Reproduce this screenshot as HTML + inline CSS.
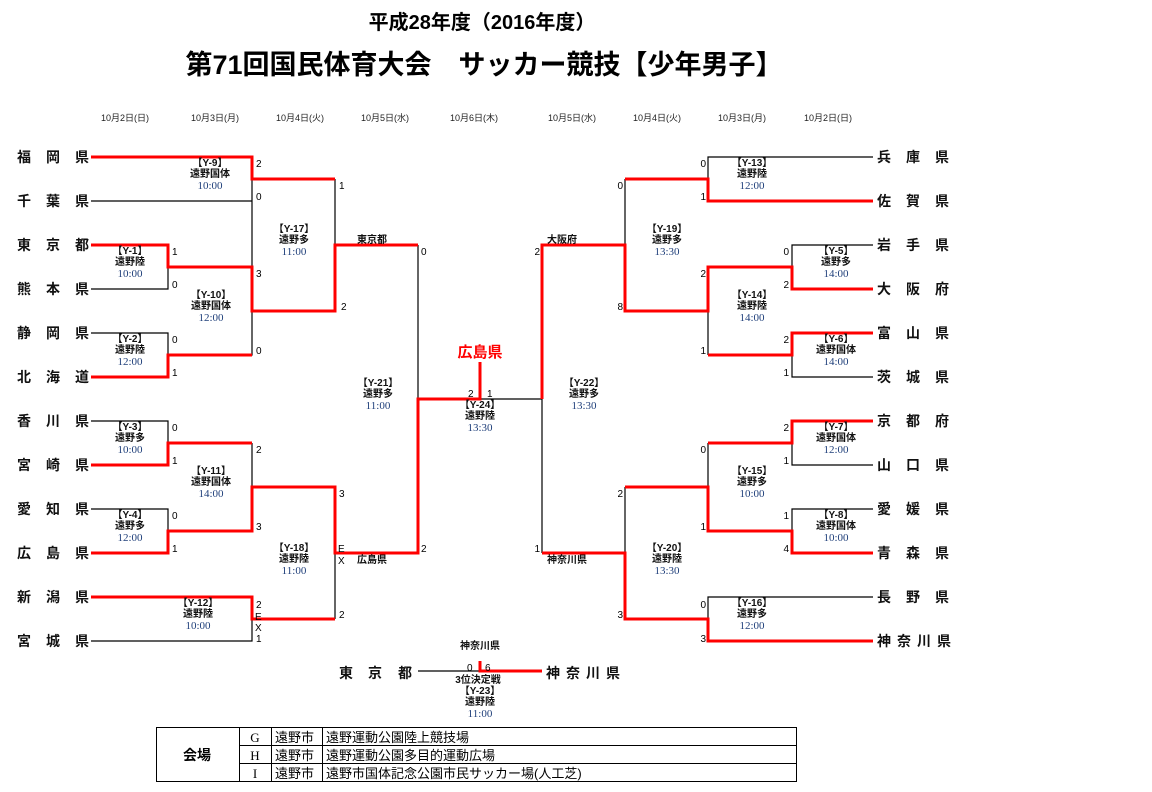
<!DOCTYPE html>
<html><head><meta charset="utf-8"><style>
html,body{margin:0;padding:0;background:#fff;}
svg{display:block;}
text{font-family:"Liberation Sans","Noto Sans CJK JP",sans-serif;}
.t{font-size:14px;font-weight:bold;fill:#111;}
.s{font-size:10px;fill:#000;}
.m{font-size:10px;font-weight:bold;fill:#111;text-anchor:middle;}
.tm{font-size:11px;fill:#1f3f7a;text-anchor:middle;font-family:"Liberation Serif","Noto Serif CJK SC",serif;}
.d{font-size:9px;fill:#222;text-anchor:middle;}
.b{stroke:#000;stroke-width:1.2;fill:none;}
.r{stroke:#f00;stroke-width:3;fill:none;}
</style></head><body>
<svg width="1152" height="792" viewBox="0 0 1152 792" xmlns="http://www.w3.org/2000/svg">
<text x="482" y="29" text-anchor="middle" style="font-size:20px;font-weight:bold;font-family:'Liberation Sans','Noto Sans CJK JP',sans-serif">平成28年度（2016年度）</text>
<text x="484" y="74" text-anchor="middle" style="font-size:27px;font-weight:bold;font-family:'Liberation Sans','Noto Sans CJK JP',sans-serif">第71回国民体育大会　サッカー競技【少年男子】</text>
<g class="d">
<text x="125" y="121">10月2日(日)</text><text x="215" y="121">10月3日(月)</text><text x="300" y="121">10月4日(火)</text><text x="385" y="121">10月5日(水)</text><text x="474" y="121">10月6日(木)</text>
<text x="572" y="121">10月5日(水)</text><text x="657" y="121">10月4日(火)</text><text x="742" y="121">10月3日(月)</text><text x="828" y="121">10月2日(日)</text>
</g>
<g class="b">
<path d="M91 201H252V157 M91 289H168V245 M91 333H168V377 M168 355H252V267 M252 311V179 M91 421H168V465 M91 509H168V553 M168 531H252V443 M252 487V531 M91 641H252V597 M335 179V311 M335 487V619 M418 245V553 M418 399H542 M542 245V553"/>
<path d="M873 157H708V201 M873 245H792V289 M873 377H792V333 M708 267V355 M625 179V311 M873 465H792V421 M873 509H792V553 M708 443V531 M873 597H708V641 M625 487V619 M418 671H480"/>
</g>
<g class="r">
<path d="M91 157H252V179H335"/>
<path d="M91 245H168V267H252V311H335V245H418"/>
<path d="M91 377H168V355H252"/>
<path d="M91 465H168V443H252"/>
<path d="M91 553H168V531H252V487H335V553H418V399H480V362"/>
<path d="M91 597H252V619H335"/>
<path d="M873 201H708V179H625"/>
<path d="M873 289H792V267H708V311H625V245H542V399"/>
<path d="M873 333H792V355H708"/>
<path d="M873 421H792V443H708"/>
<path d="M873 553H792V531H708V487H625"/>
<path d="M873 641H708V619H625V553H542"/>
<path d="M480 661V671H542"/>
</g>
<g class="t">
<text y="162"><tspan x="17">福</tspan><tspan x="46">岡</tspan><tspan x="75">県</tspan></text>
<text y="206"><tspan x="17">千</tspan><tspan x="46">葉</tspan><tspan x="75">県</tspan></text>
<text y="250"><tspan x="17">東</tspan><tspan x="46">京</tspan><tspan x="75">都</tspan></text>
<text y="294"><tspan x="17">熊</tspan><tspan x="46">本</tspan><tspan x="75">県</tspan></text>
<text y="338"><tspan x="17">静</tspan><tspan x="46">岡</tspan><tspan x="75">県</tspan></text>
<text y="382"><tspan x="17">北</tspan><tspan x="46">海</tspan><tspan x="75">道</tspan></text>
<text y="426"><tspan x="17">香</tspan><tspan x="46">川</tspan><tspan x="75">県</tspan></text>
<text y="470"><tspan x="17">宮</tspan><tspan x="46">崎</tspan><tspan x="75">県</tspan></text>
<text y="514"><tspan x="17">愛</tspan><tspan x="46">知</tspan><tspan x="75">県</tspan></text>
<text y="558"><tspan x="17">広</tspan><tspan x="46">島</tspan><tspan x="75">県</tspan></text>
<text y="602"><tspan x="17">新</tspan><tspan x="46">潟</tspan><tspan x="75">県</tspan></text>
<text y="646"><tspan x="17">宮</tspan><tspan x="46">城</tspan><tspan x="75">県</tspan></text>
<text y="162"><tspan x="877">兵</tspan><tspan x="906">庫</tspan><tspan x="935">県</tspan></text>
<text y="206"><tspan x="877">佐</tspan><tspan x="906">賀</tspan><tspan x="935">県</tspan></text>
<text y="250"><tspan x="877">岩</tspan><tspan x="906">手</tspan><tspan x="935">県</tspan></text>
<text y="294"><tspan x="877">大</tspan><tspan x="906">阪</tspan><tspan x="935">府</tspan></text>
<text y="338"><tspan x="877">富</tspan><tspan x="906">山</tspan><tspan x="935">県</tspan></text>
<text y="382"><tspan x="877">茨</tspan><tspan x="906">城</tspan><tspan x="935">県</tspan></text>
<text y="426"><tspan x="877">京</tspan><tspan x="906">都</tspan><tspan x="935">府</tspan></text>
<text y="470"><tspan x="877">山</tspan><tspan x="906">口</tspan><tspan x="935">県</tspan></text>
<text y="514"><tspan x="877">愛</tspan><tspan x="906">媛</tspan><tspan x="935">県</tspan></text>
<text y="558"><tspan x="877">青</tspan><tspan x="906">森</tspan><tspan x="935">県</tspan></text>
<text y="602"><tspan x="877">長</tspan><tspan x="906">野</tspan><tspan x="935">県</tspan></text>
<text y="646"><tspan x="877">神</tspan><tspan x="897">奈</tspan><tspan x="917">川</tspan><tspan x="937">県</tspan></text>
<text y="678"><tspan x="339">東</tspan><tspan x="368">京</tspan><tspan x="398">都</tspan></text>
<text y="678"><tspan x="546">神</tspan><tspan x="566">奈</tspan><tspan x="586">川</tspan><tspan x="606">県</tspan></text>
</g>
<text x="480" y="357" text-anchor="middle" style="font-size:15px;font-weight:bold;fill:#f00">広島県</text>
<g class="s">
<text x="256" y="167">2</text><text x="256" y="200">0</text>
<text x="339" y="189">1</text><text x="341" y="310">2</text>
<text x="421" y="255">0</text><text x="421" y="552">2</text>
<text x="172" y="255">1</text><text x="172" y="288">0</text>
<text x="256" y="277">3</text><text x="256" y="354">0</text>
<text x="172" y="343">0</text><text x="172" y="376">1</text>
<text x="172" y="431">0</text><text x="172" y="464">1</text>
<text x="256" y="453">2</text><text x="256" y="530">3</text>
<text x="339" y="497">3</text><text x="338" y="552">E</text><text x="338" y="564">X</text><text x="339" y="618">2</text>
<text x="172" y="519">0</text><text x="172" y="552">1</text>
<text x="256" y="608">2</text><text x="255" y="620">E</text><text x="255" y="631">X</text><text x="256" y="642">1</text>
<text x="468" y="397">2</text><text x="487" y="397">1</text>
<text x="467" y="671">0</text><text x="485" y="671">6</text>
</g>
<g class="s" text-anchor="end">
<text x="706" y="167">0</text><text x="706" y="200">1</text>
<text x="623" y="189">0</text><text x="623" y="310">8</text>
<text x="540" y="255">2</text><text x="540" y="552">1</text>
<text x="789" y="255">0</text><text x="789" y="288">2</text>
<text x="706" y="277">2</text><text x="706" y="354">1</text>
<text x="789" y="343">2</text><text x="789" y="376">1</text>
<text x="789" y="431">2</text><text x="789" y="464">1</text>
<text x="706" y="453">0</text><text x="706" y="530">1</text>
<text x="789" y="519">1</text><text x="789" y="552">4</text>
<text x="623" y="497">2</text><text x="623" y="618">3</text>
<text x="706" y="608">0</text><text x="706" y="642">3</text>
</g>
<g class="m">
<text x="372" y="243">東京都</text><text x="372" y="563">広島県</text>
<text x="562" y="243">大阪府</text><text x="567" y="563">神奈川県</text>
<text x="480" y="649">神奈川県</text>
<text x="478" y="683">3位決定戦</text>
</g>
<g>
<text class="m" x="210" y="166">【Y-9】</text><text class="m" x="210" y="177">遠野国体</text><text class="tm" x="210" y="189">10:00</text>
<text class="m" x="130" y="254">【Y-1】</text><text class="m" x="130" y="265">遠野陸</text><text class="tm" x="130" y="277">10:00</text>
<text class="m" x="211" y="298">【Y-10】</text><text class="m" x="211" y="309">遠野国体</text><text class="tm" x="211" y="321">12:00</text>
<text class="m" x="130" y="342">【Y-2】</text><text class="m" x="130" y="353">遠野陸</text><text class="tm" x="130" y="365">12:00</text>
<text class="m" x="294" y="232">【Y-17】</text><text class="m" x="294" y="243">遠野多</text><text class="tm" x="294" y="255">11:00</text>
<text class="m" x="130" y="430">【Y-3】</text><text class="m" x="130" y="441">遠野多</text><text class="tm" x="130" y="453">10:00</text>
<text class="m" x="211" y="474">【Y-11】</text><text class="m" x="211" y="485">遠野国体</text><text class="tm" x="211" y="497">14:00</text>
<text class="m" x="130" y="518">【Y-4】</text><text class="m" x="130" y="529">遠野多</text><text class="tm" x="130" y="541">12:00</text>
<text class="m" x="198" y="606">【Y-12】</text><text class="m" x="198" y="617">遠野陸</text><text class="tm" x="198" y="629">10:00</text>
<text class="m" x="294" y="551">【Y-18】</text><text class="m" x="294" y="562">遠野陸</text><text class="tm" x="294" y="574">11:00</text>
<text class="m" x="378" y="386">【Y-21】</text><text class="m" x="378" y="397">遠野多</text><text class="tm" x="378" y="409">11:00</text>
<text class="m" x="480" y="408">【Y-24】</text><text class="m" x="480" y="419">遠野陸</text><text class="tm" x="480" y="431">13:30</text>
<text class="m" x="480" y="694">【Y-23】</text><text class="m" x="480" y="705">遠野陸</text><text class="tm" x="480" y="717">11:00</text>
<text class="m" x="752" y="166">【Y-13】</text><text class="m" x="752" y="177">遠野陸</text><text class="tm" x="752" y="189">12:00</text>
<text class="m" x="667" y="232">【Y-19】</text><text class="m" x="667" y="243">遠野多</text><text class="tm" x="667" y="255">13:30</text>
<text class="m" x="836" y="254">【Y-5】</text><text class="m" x="836" y="265">遠野多</text><text class="tm" x="836" y="277">14:00</text>
<text class="m" x="752" y="298">【Y-14】</text><text class="m" x="752" y="309">遠野陸</text><text class="tm" x="752" y="321">14:00</text>
<text class="m" x="836" y="342">【Y-6】</text><text class="m" x="836" y="353">遠野国体</text><text class="tm" x="836" y="365">14:00</text>
<text class="m" x="584" y="386">【Y-22】</text><text class="m" x="584" y="397">遠野多</text><text class="tm" x="584" y="409">13:30</text>
<text class="m" x="836" y="430">【Y-7】</text><text class="m" x="836" y="441">遠野国体</text><text class="tm" x="836" y="453">12:00</text>
<text class="m" x="752" y="474">【Y-15】</text><text class="m" x="752" y="485">遠野多</text><text class="tm" x="752" y="497">10:00</text>
<text class="m" x="836" y="518">【Y-8】</text><text class="m" x="836" y="529">遠野国体</text><text class="tm" x="836" y="541">10:00</text>
<text class="m" x="667" y="551">【Y-20】</text><text class="m" x="667" y="562">遠野陸</text><text class="tm" x="667" y="574">13:30</text>
<text class="m" x="752" y="606">【Y-16】</text><text class="m" x="752" y="617">遠野多</text><text class="tm" x="752" y="629">12:00</text>
</g>
<g stroke="#000" stroke-width="1" fill="none">
<rect x="156.5" y="727.5" width="640" height="54"/>
<path d="M239.5 727.5V781.5 M271.5 727.5V781.5 M322.5 727.5V781.5 M239.5 745.5H796.5 M239.5 763.5H796.5"/>
</g>
<g style="font-size:13px;fill:#000">
<text x="197" y="760" text-anchor="middle" style="font-weight:bold;font-size:14px">会場</text>
<text x="255" y="742" text-anchor="middle" style="font-family:'Liberation Serif',serif">G</text>
<text x="255" y="760" text-anchor="middle" style="font-family:'Liberation Serif',serif">H</text>
<text x="255" y="778" text-anchor="middle" style="font-family:'Liberation Serif',serif">I</text>
<text x="275" y="742">遠野市</text><text x="275" y="760">遠野市</text><text x="275" y="778">遠野市</text>
<text x="326" y="742">遠野運動公園陸上競技場</text>
<text x="326" y="760">遠野運動公園多目的運動広場</text>
<text x="326" y="778">遠野市国体記念公園市民サッカー場(人工芝)</text>
</g>
</svg>
</body></html>
